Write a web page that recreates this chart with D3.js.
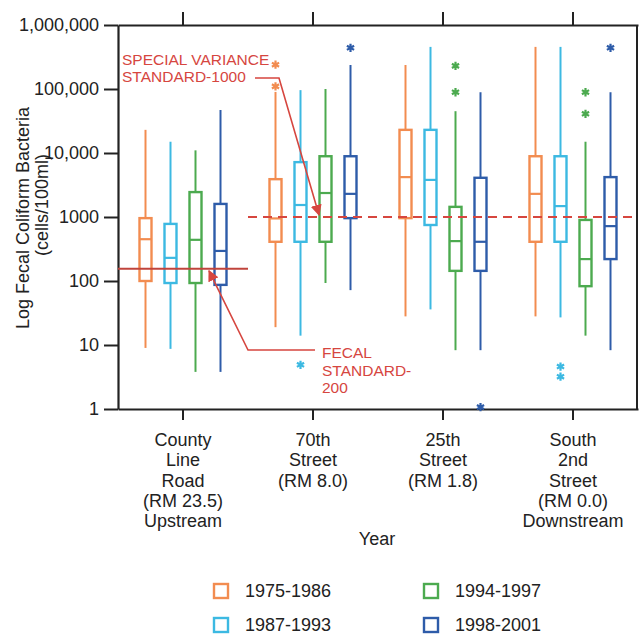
<!DOCTYPE html>
<html>
<head>
<meta charset="utf-8">
<script src="https://cdn.jsdelivr.net/npm/d3@7"></script>
<style>
  body { margin: 0; background: #fff; }
  svg text { font-family: "Liberation Sans", Arial, sans-serif; }
</style>
</head>
<body>
<div id="chart"></div>
<script>
// sites along the river, one label line per entry
const siteLabels = [
  ["County", "Line", "Road", "(RM 23.5)", "Upstream"],
  ["70th", "Street", "(RM 8.0)"],
  ["25th", "Street", "(RM 1.8)"],
  ["South", "2nd", "Street", "(RM 0.0)", "Downstream"]
];
const sites = siteLabels.map(d => d.join(" "));
const periods = ["1975-1986", "1987-1993", "1994-1997", "1998-2001"];
const colors = ["#f28c50", "#3cb9e2", "#4caa4f", "#2e5ca9"];

// [whisker low, q1, median, q3, whisker high] per site
const stats1975 = [[9, 100, 450, 960, 23000], [19, 410, 950, 3900, 90000], [28, 960, 4200, 23000, 237000], [28, 410, 2300, 8900, 455000]];
const stats1987 = [[8.7, 93, 230, 780, 15000], [14, 410, 1540, 7200, 96000], [36, 750, 3800, 23000, 455000], [27, 410, 1480, 8900, 455000]];
const stats1994 = [[3.8, 93, 440, 2450, 11000], [93, 410, 2370, 8900, 100000], [8.3, 144, 420, 1440, 45000], [14, 83, 220, 900, 15000]];
const stats1998 = [[3.8, 87, 295, 1600, 47000], [72, 960, 2300, 8900, 237000], [8.3, 144, 410, 4100, 89000], [8.3, 220, 720, 4200, 89000]];
const allStats = [stats1975, stats1987, stats1994, stats1998];

// outliers: [site index, period index, value]
const outliers = [
  [1, 0, 110000], [1, 0, 240000],
  [1, 1, 4.9],
  [1, 3, 440000],
  [2, 2, 89000], [2, 2, 230000],
  [2, 3, 1.07],
  [3, 1, 4.6], [3, 1, 3.2],
  [3, 2, 41000], [3, 2, 89000],
  [3, 3, 440000]
];

const yTicks = [1, 10, 100, 1000, 10000, 100000, 1000000];
const yTickLabels = ["1", "10", "100", "1000", "10,000", "100,000", "1,000,000"];

const specialStandard = 1000;
const fecalStandard = 155;

const W = 639, H = 634;
const margin = { top: 25, right: 1, bottom: 225, left: 118 };

const svg = d3.select("#chart").append("svg")
  .attr("width", W)
  .attr("height", H);

const x = d3.scaleBand().domain(sites).range([margin.left, W - margin.right]);
const xSub = d3.scaleBand().domain(periods).range([-50, 50]);
const y = d3.scaleLog().domain([1, 1e6]).range([H - margin.bottom, margin.top]);
const color = d3.scaleOrdinal().domain(periods).range(colors);

const ink = "#222";
const red = "#d6463f";
const boxW = 12;

// axes
const yAxis = svg.append("g")
  .attr("transform", `translate(${margin.left},0)`)
  .call(d3.axisLeft(y).tickValues(yTicks).tickFormat((d, i) => yTickLabels[i]).tickSize(14).tickPadding(5).tickSizeOuter(0));

const xAxis = svg.append("g")
  .attr("transform", `translate(0,${y(1)})`)
  .call(d3.axisBottom(x).tickSize(11).tickSizeOuter(0).tickFormat(""));

const topAxis = svg.append("g")
  .attr("transform", `translate(0,${y(1e6)})`)
  .call(d3.axisTop(x).tickSize(13).tickSizeOuter(0).tickFormat(""));

svg.append("line")
  .attr("x1", x.range()[1] - 1).attr("x2", x.range()[1] - 1)
  .attr("y1", y(1e6)).attr("y2", y(1))
  .attr("stroke", ink).attr("stroke-width", 2);

[yAxis, xAxis, topAxis].forEach(g => {
  g.selectAll("path").attr("stroke", ink).attr("stroke-width", 2.2);
  g.selectAll(".tick line").attr("stroke", ink).attr("stroke-width", 2);
  g.selectAll("text").style("font-size", "18px").attr("fill", ink);
});

// category labels
sites.forEach((s, i) => {
  const t = svg.append("text")
    .attr("x", x(s) + x.bandwidth() / 2)
    .attr("y", 446)
    .attr("text-anchor", "middle")
    .style("font-size", "18px")
    .attr("fill", ink);
  siteLabels[i].forEach((line, j) => {
    t.append("tspan")
      .attr("x", x(s) + x.bandwidth() / 2)
      .attr("dy", j === 0 ? 0 : 20.3)
      .text(line);
  });
});

svg.append("text")
  .attr("x", 377).attr("y", 545)
  .attr("text-anchor", "middle")
  .style("font-size", "18px")
  .attr("fill", ink)
  .text("Year");

svg.append("text")
  .attr("transform", "translate(29,218) rotate(-90)")
  .attr("text-anchor", "middle")
  .style("font-size", "18px")
  .attr("fill", ink)
  .text("Log Fecal Coliform Bacteria");

svg.append("text")
  .attr("transform", "translate(48,205) rotate(-90)")
  .attr("text-anchor", "middle")
  .style("font-size", "18px")
  .attr("fill", ink)
  .text("(cells/100ml)");

// box plots
const boxData = [];
sites.forEach((s, si) => {
  periods.forEach((p, pi) => {
    const v = allStats[pi][si];
    boxData.push({ site: s, period: p, low: v[0], q1: v[1], med: v[2], q3: v[3], high: v[4] });
  });
});

const cx = d => x(d.site) + x.bandwidth() / 2 + xSub(d.period) + xSub.bandwidth() / 2;

const boxes = svg.append("g").selectAll("g")
  .data(boxData)
  .enter().append("g")
  .attr("stroke", d => color(d.period))
  .attr("fill", "none");

boxes.append("line")
  .attr("x1", cx).attr("x2", cx)
  .attr("y1", d => y(d.high)).attr("y2", d => y(d.q3))
  .attr("stroke-width", 2);

boxes.append("line")
  .attr("x1", cx).attr("x2", cx)
  .attr("y1", d => y(d.q1)).attr("y2", d => y(d.low))
  .attr("stroke-width", 2);

boxes.append("rect")
  .attr("x", d => cx(d) - boxW / 2)
  .attr("width", boxW)
  .attr("y", d => y(d.q3))
  .attr("height", d => y(d.q1) - y(d.q3))
  .attr("stroke-width", 2.4);

boxes.append("line")
  .attr("x1", d => cx(d) - boxW / 2).attr("x2", d => cx(d) + boxW / 2)
  .attr("y1", d => y(d.med)).attr("y2", d => y(d.med))
  .attr("stroke-width", 2.2);

svg.append("g").selectAll("path")
  .data(outliers)
  .enter().append("path")
  .attr("d", d3.symbol(d3.symbolAsterisk, 48))
  .attr("transform", d => `translate(${cx({ site: sites[d[0]], period: periods[d[1]] })},${y(d[2])})`)
  .attr("stroke", d => colors[d[1]])
  .attr("stroke-width", 2.2)
  .attr("fill", "none");

// standards
svg.append("line")
  .attr("x1", 248).attr("x2", x.range()[1] - 1)
  .attr("y1", y(specialStandard)).attr("y2", y(specialStandard))
  .attr("stroke", red).attr("stroke-width", 2)
  .attr("stroke-dasharray", "9,6");

svg.append("line")
  .attr("x1", margin.left).attr("x2", 248)
  .attr("y1", y(fecalStandard)).attr("y2", y(fecalStandard))
  .attr("stroke", "#c0443c").attr("stroke-width", 2);

svg.append("defs").append("marker")
  .attr("id", "arrow")
  .attr("viewBox", "0 0 10 10")
  .attr("refX", 9).attr("refY", 5)
  .attr("markerWidth", 7).attr("markerHeight", 7)
  .attr("orient", "auto")
  .append("path")
  .attr("d", "M0,0 L10,5 L0,10 z")
  .attr("fill", red);

svg.append("path")
  .attr("d", `M255,78 L279,78 L319,${y(specialStandard) - 2}`)
  .attr("fill", "none")
  .attr("stroke", red).attr("stroke-width", 1.6)
  .attr("marker-end", "url(#arrow)");

svg.append("path")
  .attr("d", `M315,350 L248,350 L209,${y(fecalStandard) + 2}`)
  .attr("fill", "none")
  .attr("stroke", red).attr("stroke-width", 1.6)
  .attr("marker-end", "url(#arrow)");

const note1 = svg.append("text")
  .attr("x", 122).attr("y", 65)
  .style("font-size", "15.5px")
  .attr("fill", red);
note1.append("tspan").attr("x", 122).text("SPECIAL VARIANCE");
note1.append("tspan").attr("x", 122).attr("dy", 17).text("STANDARD-1000");

const note2 = svg.append("text")
  .attr("x", 322).attr("y", 358)
  .style("font-size", "15.5px")
  .attr("fill", red);
note2.append("tspan").attr("x", 322).text("FECAL");
note2.append("tspan").attr("x", 322).attr("dy", 17.5).text("STANDARD-");
note2.append("tspan").attr("x", 322).attr("dy", 17.5).text("200");

// legend
const legendPos = [[214, 584], [214, 618], [424, 584], [424, 618]];
const legend = svg.append("g").selectAll("g")
  .data(periods)
  .enter().append("g")
  .attr("transform", (d, i) => `translate(${legendPos[i][0]},${legendPos[i][1]})`);

legend.append("rect")
  .attr("width", 14).attr("height", 14)
  .attr("fill", "none")
  .attr("stroke", d => color(d))
  .attr("stroke-width", 2.4);

legend.append("text")
  .attr("x", 31).attr("y", 13)
  .style("font-size", "18px")
  .attr("fill", ink)
  .text(d => d);
</script>
</body>
</html>
